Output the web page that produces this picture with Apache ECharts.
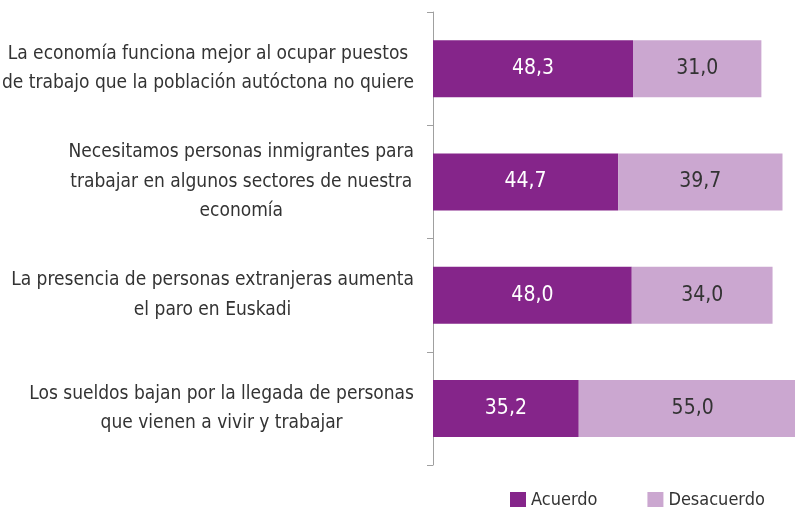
<!DOCTYPE html>
<html>
<head>
<meta charset="utf-8">
<script src="https://cdn.jsdelivr.net/npm/echarts@6/dist/echarts.min.js"></script>
<style>html,body{margin:0;padding:0;background:#fff;}#c{width:795px;height:507px;}</style>
</head>
<body>
<div id="c"></div>
<script>
var categories = [
  'La economía funciona mejor al ocupar puestos\nde trabajo que la población autóctona no quiere',
  'Necesitamos personas inmigrantes para\ntrabajar en algunos sectores de nuestra\neconomía',
  'La presencia de personas extranjeras aumenta\nel paro en Euskadi',
  'Los sueldos bajan por la llegada de personas\nque vienen a vivir y trabajar'
];
var acuerdo = [48.3, 44.7, 48.0, 35.2];
var desacuerdo = [31.0, 39.7, 34.0, 55.0];

var FONT = '"DejaVu Sans Condensed", "DejaVu Sans", sans-serif';
var chart = echarts.init(document.getElementById('c'), null, {renderer: 'canvas'});
function fmt(v) { return v.toFixed(1).replace('.', ','); }
chart.setOption({
  animation: false,
  textStyle: {fontFamily: FONT},
  grid: {left: 433, top: 12, bottom: 42, width: 414.1, containLabel: false, outerBoundsMode: 'none'},
  xAxis: {type: 'value', min: 0, max: 100, show: false},
  yAxis: {
    type: 'category', data: categories, inverse: true,
    axisLine: {show: true, lineStyle: {color: '#a0a0a0', width: 1}},
    axisTick: {show: true, length: 6, lineStyle: {color: '#a0a0a0'}},
    axisLabel: {
      margin: 19, color: '#333', fontSize: 19, fontFamily: FONT, lineHeight: 29.5,
      formatter: function (v) {
        return v.split('\n').map(function (l) { return '{c|' + l + '}'; }).join('\n');
      },
      rich: {c: {align: 'center', fontSize: 19, lineHeight: 29.5, color: '#333', fontFamily: FONT}}
    }
  },
  legend: {
    left: 510, top: 491, padding: 0, itemWidth: 16, itemHeight: 16, itemGap: 50,
    icon: 'rect', width: 285,
    textStyle: {fontSize: 18, lineHeight: 16, color: '#333', fontFamily: FONT},
    data: ['Acuerdo', 'Desacuerdo']
  },
  series: [
    {
      name: 'Acuerdo', type: 'bar', stack: 's', barWidth: 57, data: acuerdo,
      itemStyle: {color: '#85258A'},
      label: {show: true, position: 'inside', color: '#fff', fontSize: 21, fontFamily: FONT,
        formatter: function (p) { return fmt(p.value); }}
    },
    {
      name: 'Desacuerdo', type: 'bar', stack: 's', barWidth: 57, data: desacuerdo,
      itemStyle: {color: '#CBA7D0'},
      label: {show: true, position: 'inside', color: '#333', fontSize: 21, fontFamily: FONT,
        formatter: function (p) { return fmt(p.value); }}
    }
  ]
});
</script>
</body>
</html>
